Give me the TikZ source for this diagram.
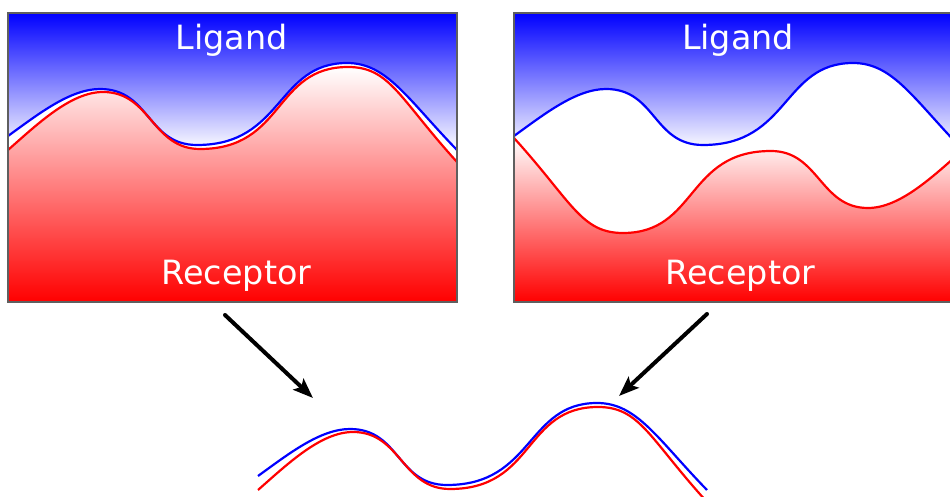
\documentclass[tikz,border=0pt]{standalone}
\usepackage{fontspec}
\newfontfamily\dvsans{DejaVu Sans}
\usetikzlibrary{arrows.meta}
\definecolor{cblue}{RGB}{0,0,255}
\definecolor{cred}{RGB}{255,0,0}
\definecolor{bordergray}{RGB}{95,95,95}
\begin{document}
\begin{tikzpicture}[x=0.5pt,y=-0.5pt,
  blueln/.style={draw=cblue,line width=1.1pt},
  redln/.style={draw=cred,line width=1.1pt},
  boxln/.style={draw=bordergray,line width=0.6pt},
  lbl/.style={text=white,font=\dvsans\fontsize{16.7}{20}\selectfont,anchor=base,inner sep=0pt},
  arr/.style={line width=2pt,line cap=round,-{Stealth[length=10pt,width=7.5pt,inset=2pt]}},
  bluefill/.style={top color=cblue,bottom color=white},
  redfill/.style={top color=white,bottom color=cred},
  bluerest/.style={insert path={.. controls (38,114.4) and (70,89) .. (100,89) .. controls (150,89) and (147,145) .. (197,145) .. controls (283.5,145) and (276.5,63) .. (347,63) .. controls (387,63) and (407,98.5) .. (457,150)}},
  redrest/.style={insert path={.. controls (38,123.6) and (71,92) .. (103,92) .. controls (151,92) and (152,149) .. (200,149) .. controls (285,149) and (273.5,67) .. (348,67) .. controls (390,67) and (399,98.2) .. (457,162)}},
  redrot/.style={insert path={.. controls (933,176.4) and (900,208) .. (868,208) .. controls (820,208) and (819,151) .. (771,151) .. controls (686,151) and (697.5,233) .. (623,233) .. controls (581,233) and (572,201.8) .. (514,138)}}
]
\useasboundingbox (0,0) rectangle (950,497);
\clip (0,0) rectangle (950,497);
\fill[white] (0,0) rectangle (950,497);

% left box
\shade[bluefill] (457,13) -- (8,13) -- (8,136) [bluerest] -- cycle;
\shade[redfill] (457,302) -- (8,302) -- (8,150) [redrest] -- cycle;
\draw[blueln] (8,136) [bluerest];
\draw[redln] (8,150) [redrest];
\draw[boxln] (8,13) rectangle (457,302);
\node[lbl] (lig1) at (231.5,50) {Ligand};
\node[lbl] (rec1) at (236.5,285) {Receptor};

% right box
\begin{scope}[shift={(506,0)}]
\shade[bluefill] (457,13) -- (8,13) -- (8,136) [bluerest] -- cycle;
\draw[blueln] (8,136) [bluerest];
\end{scope}
\shade[redfill] (963,302) -- (963,150) [redrot] -- (514,302) -- cycle;
\draw[redln] (963,150) [redrot];
\draw[boxln] (514,13) rectangle (963,302);
\node[lbl] (lig2) at (738,50) {Ligand};
\node[lbl] (rec2) at (740.5,285) {Receptor};

% bottom combined curves
\begin{scope}[shift={(250,340)}]
\draw[blueln] (8,136) [bluerest];
\draw[redln] (8,150) [redrest];
\end{scope}

% arrows
\coordinate (a1s) at (225,315);
\coordinate (a1e) at (313,398);
\coordinate (a2s) at (707,314);
\coordinate (a2e) at (619,396);
\draw[arr] (a1s) -- (a1e);
\draw[arr] (a2s) -- (a2e);
\end{tikzpicture}
\end{document}
